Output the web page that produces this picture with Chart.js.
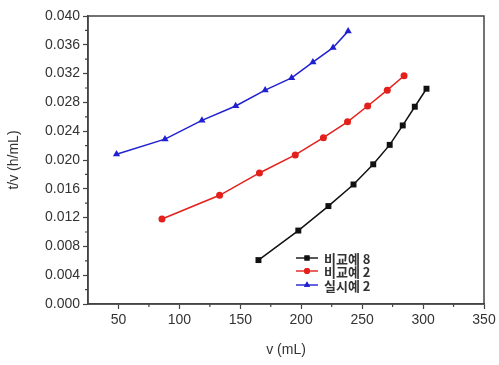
<!DOCTYPE html>
<html>
<head>
<meta charset="utf-8">
<script src="https://cdn.jsdelivr.net/npm/chart.js@4"></script>
<style>
  html, body { margin: 0; padding: 0; background: #fff; }
  #wrap { width: 499px; height: 365px; }
</style>
</head>
<body>
<div id="wrap"><canvas id="chart" width="499" height="365"></canvas></div>
<script>
// Data
const seriesNames = ['비교예 8', '비교예 2', '실시예 2'];
const compare8X = [164.9, 197.6, 222.3, 242.9, 259.1, 272.6, 283.3, 293.2, 302.8];
const compare8Y = [0.0061, 0.0102, 0.0136, 0.0166, 0.0194, 0.0221, 0.0248, 0.0274, 0.0299];
const compare2X = [85.7, 133.0, 165.7, 195.1, 218.2, 238.0, 254.5, 270.6, 284.4];
const compare2Y = [0.0118, 0.0151, 0.0182, 0.0207, 0.0231, 0.0253, 0.0275, 0.0297, 0.0317];
const exampleX = [48.4, 88.2, 118.5, 146.2, 170.4, 192.1, 209.6, 226.1, 238.5];
const exampleY = [0.0208, 0.0229, 0.0255, 0.0275, 0.0297, 0.0314, 0.0336, 0.0356, 0.0379];

const xTicks = [50, 100, 150, 200, 250, 300, 350];
const xMinorTicks = [75, 125, 175, 225, 275, 325];
const yTickLabels = ['0.000', '0.004', '0.008', '0.012', '0.016', '0.020', '0.024', '0.028', '0.032', '0.036', '0.040'];
const yMinorTicks = [0.002, 0.006, 0.010, 0.014, 0.018, 0.022, 0.026, 0.030, 0.034, 0.038];

const colors = ['#111111', '#e3201b', '#2020d0'];
const markers = ['rect', 'circle', 'triangle'];
const radii = [4.2, 3.5, 4.2];

const toPoints = (xs, ys) => xs.map((x, i) => ({ x: x, y: ys[i] }));
const seriesData = [toPoints(compare8X, compare8Y), toPoints(compare2X, compare2Y), toPoints(exampleX, exampleY)];

const axisColor = '#444';
const textColor = '#333';
const tickFont = { family: "'Liberation Sans', Arial, sans-serif", size: 14 };

// frame, minor ticks and the in-plot legend
const framePlugin = {
    id: 'frame',
    afterDraw(chart) {
        const ctx = chart.ctx;
        const a = chart.chartArea;
        const xs = chart.scales.x, ys = chart.scales.y;
        ctx.save();
        ctx.strokeStyle = axisColor;
        ctx.lineWidth = 1.5;
        ctx.strokeRect(a.left, a.top, a.right - a.left, a.bottom - a.top);

        ctx.lineWidth = 1.2;
        ctx.beginPath();
        xMinorTicks.forEach(v => {
            const px = xs.getPixelForValue(v);
            ctx.moveTo(px, a.bottom);
            ctx.lineTo(px, a.bottom + 3);
        });
        yMinorTicks.forEach(v => {
            const py = ys.getPixelForValue(v);
            ctx.moveTo(a.left, py);
            ctx.lineTo(a.left - 3, py);
        });
        ctx.stroke();

        // legend
        const rowsY = [258, 271, 285];
        const lx0 = 296, lx1 = 318, mx = 307, tx = 324;
        ctx.font = "bold 13px 'Noto Sans CJK KR', sans-serif";
        ctx.textBaseline = 'middle';
        seriesNames.forEach((name, i) => {
            const y = rowsY[i];
            ctx.strokeStyle = colors[i];
            ctx.lineWidth = 1.4;
            ctx.beginPath();
            ctx.moveTo(lx0, y);
            ctx.lineTo(lx1, y);
            ctx.stroke();
            ctx.fillStyle = colors[i];
            Chart.helpers.drawPoint(ctx, { pointStyle: markers[i], radius: radii[i] * 0.85, borderWidth: 0 }, mx, y);
            ctx.fill();
            ctx.fillStyle = textColor;
            ctx.fillText(name, tx, y + 1);
        });
        ctx.restore();
    }
};

const ctxMain = document.getElementById('chart').getContext('2d');
new Chart(ctxMain, {
    type: 'scatter',
    data: {
        datasets: seriesNames.map((name, i) => ({
            label: name,
            data: seriesData[i],
            showLine: true,
            borderColor: colors[i],
            backgroundColor: colors[i],
            borderWidth: 1.5,
            pointStyle: markers[i],
            pointRadius: radii[i],
            pointBorderWidth: 0,
            tension: 0
        }))
    },
    options: {
        responsive: false,
        animation: false,
        layout: { padding: { left: 0, right: 15, top: 16, bottom: 0 } },
        plugins: {
            legend: { display: false },
            tooltip: { enabled: false }
        },
        scales: {
            x: {
                type: 'linear',
                min: 25, max: 350,
                afterBuildTicks: (s) => { s.ticks = xTicks.map(v => ({ value: v })); },
                afterFit: (s) => { s.height = 61; },
                grid: { drawOnChartArea: false, drawTicks: true, tickLength: 5, tickWidth: 1.2, tickColor: axisColor },
                border: { color: axisColor, width: 1.5 },
                ticks: { color: textColor, font: tickFont, padding: 3, maxRotation: 0 },
                title: { display: true, text: 'v (mL)', color: textColor, font: tickFont, padding: { top: 0, bottom: 6 } }
            },
            y: {
                type: 'linear',
                min: 0, max: 0.04,
                afterBuildTicks: (s) => { s.ticks = yTickLabels.map(t => ({ value: parseFloat(t) })); },
                afterFit: (s) => { s.width = 88; },
                grid: { drawOnChartArea: false, drawTicks: true, tickLength: 5, tickWidth: 1.2, tickColor: axisColor },
                border: { color: axisColor, width: 1.5 },
                ticks: {
                    color: textColor, font: tickFont, padding: 3,
                    callback: (v) => v.toFixed(3)
                },
                title: { display: true, text: 't/v (h/mL)', color: textColor, font: tickFont, padding: { top: 6, bottom: 0 } }
            }
        }
    },
    plugins: [framePlugin]
});
</script>
</body>
</html>
